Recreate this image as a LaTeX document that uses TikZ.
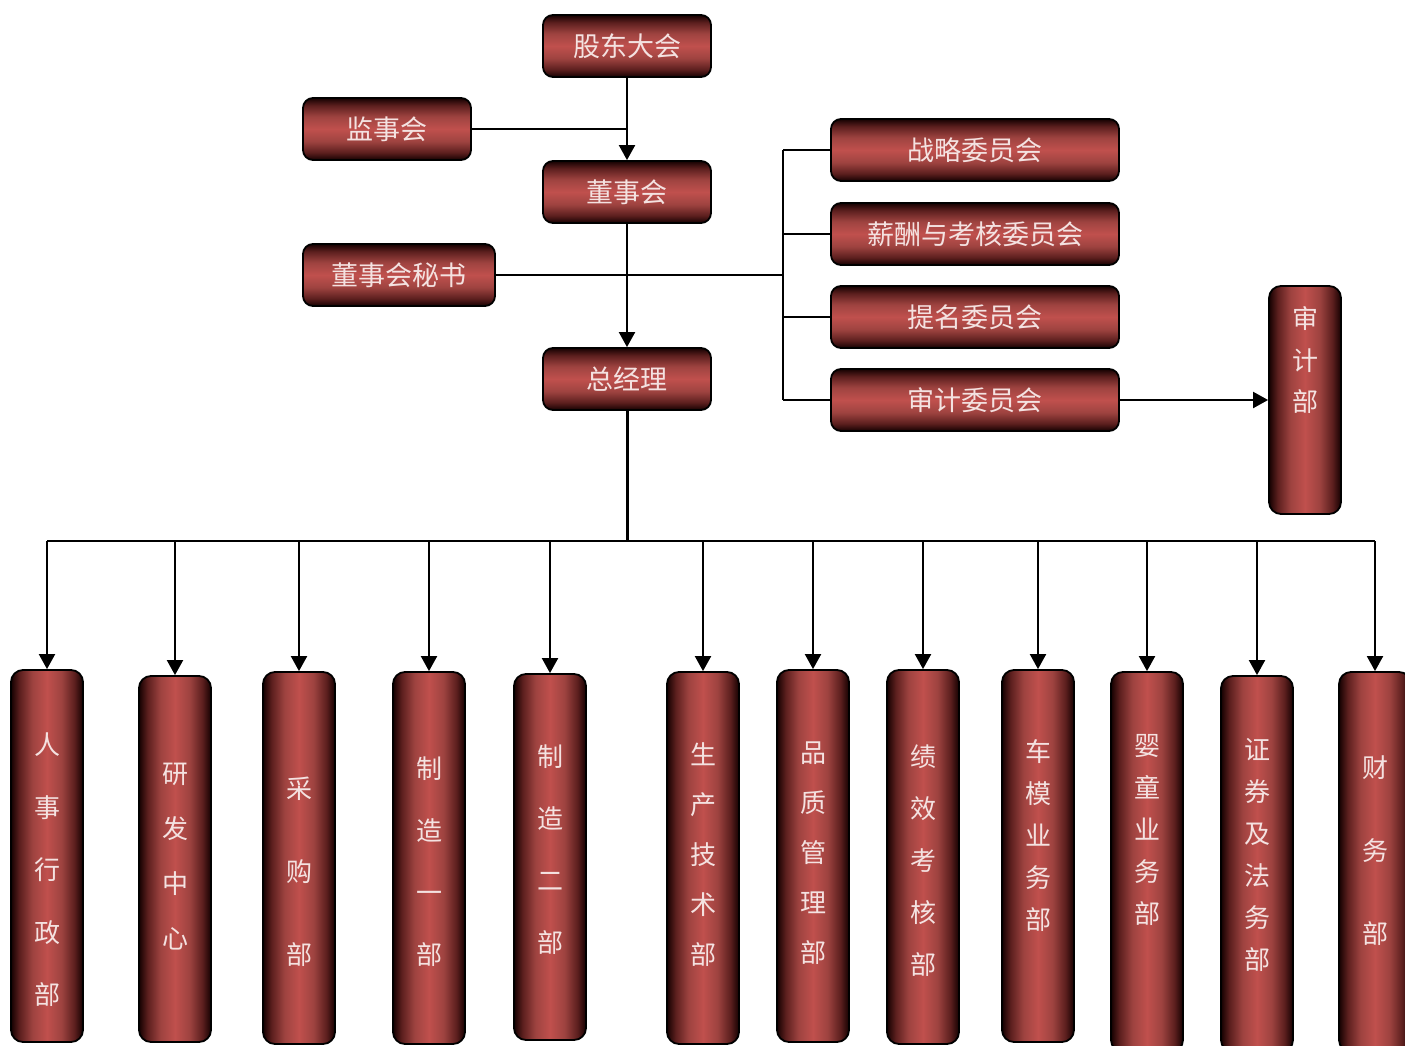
\documentclass[tikz,border=0pt]{standalone}
\usepackage{fontspec}
\newfontfamily\cjk{Noto Sans CJK SC}
\usetikzlibrary{arrows.meta}
\definecolor{dk}{HTML}{150101}
\definecolor{dm}{HTML}{5C1F1E}
\definecolor{dl}{HTML}{9E4340}
\definecolor{rd}{HTML}{C0504D}
\definecolor{tx}{HTML}{F4E2E1}
\pgfdeclareverticalshading{vsh}{100bp}{color(0bp)=(dk); color(25bp)=(dk); color(31bp)=(dm); color(40bp)=(dl); color(50bp)=(rd); color(60bp)=(dl); color(69bp)=(dm); color(75bp)=(dk); color(100bp)=(dk)}
\pgfdeclarehorizontalshading{hsh}{100bp}{color(0bp)=(dk); color(25bp)=(dk); color(31bp)=(dm); color(40bp)=(dl); color(50bp)=(rd); color(60bp)=(dl); color(69bp)=(dm); color(75bp)=(dk); color(100bp)=(dk)}
\newcommand{\mydept}[7]{%
  \node[vbox, minimum height={#4-#3}] (#1) at (#2,{(#3+#4)/2}) {};
  \node[vtext, font={\cjk\fontsize{26}{#6}\selectfont}] (#1t) at (#2,#5) {#7};
}
\begin{document}
\begin{tikzpicture}[x=1pt,y=-1pt,
  hbox/.style={rectangle, rounded corners=10pt, draw=black, line width=1.8pt,
    shading=vsh, text=tx,
    minimum height=62pt, font={\cjk\fontsize{27}{30}\selectfont}, inner sep=0pt},
  vbox/.style={rectangle, rounded corners=12pt, draw=black, line width=1.8pt,
    shading=hsh, minimum width=72pt, inner sep=0pt},
  vtext/.style={text=tx, align=center, inner sep=0pt},
  conn/.style={draw=black, line width=2pt},
  arr/.style={conn, -{Triangle[length=15pt,width=16pt]}}]
\useasboundingbox (0,0) rectangle (1405,1046);
\fill[white] (0,0) rectangle (1405,1046);
% top boxes
\node[hbox, minimum width=168pt] (gd) at (627,46) {股东大会};
\node[hbox, minimum width=168pt] (js) at (387,129) {监事会};
\node[hbox, minimum width=168pt] (ds) at (627,192) {董事会};
\node[hbox, minimum width=192pt] (ms) at (399,275) {董事会秘书};
\node[hbox, minimum width=168pt] (zjl) at (627,379) {总经理};
\node[hbox, minimum width=288pt] (zl) at (975,150) {战略委员会};
\node[hbox, minimum width=288pt] (xc) at (975,234) {薪酬与考核委员会};
\node[hbox, minimum width=288pt] (tm) at (975,317) {提名委员会};
\node[hbox, minimum width=288pt] (sjw) at (975,400) {审计委员会};
\mydept{sjb}{1305}{286}{514}{360}{41.5}{审\\计\\部}
% coordinates
\coordinate (jsj) at (627,129);
\coordinate (sj) at (783,275);
\coordinate (bus) at (627,541);
% connectors top
\draw[arr] (gd.south) -- (ds.north);
\draw[conn] (js.east) -- (jsj);
\draw[arr] (ds.south) -- (zjl.north);
\draw[conn] (ms.east) -- (sj);
\draw[conn] (sj |- zl.west) -- (sj |- sjw.west);
\draw[conn] (sj |- zl.west) -- (zl.west);
\draw[conn] (sj |- xc.west) -- (xc.west);
\draw[conn] (sj |- tm.west) -- (tm.west);
\draw[conn] (sj |- sjw.west) -- (sjw.west);
\draw[arr] (sjw.east) -- (sjb.west |- sjw.east);
% departments
\mydept{hr}{47}{670}{1042}{870}{62.5}{人\\事\\行\\政\\部}
\mydept{rd}{175}{676}{1042}{857}{55}{研\\发\\中\\心}
\mydept{cg}{299}{672}{1044}{872}{83}{采\\购\\部}
\mydept{zza}{429}{672}{1044}{862}{62}{制\\造\\一\\部}
\mydept{zzb}{550}{674}{1040}{850}{62}{制\\造\\二\\部}
\mydept{sc}{703}{672}{1044}{855}{50}{生\\产\\技\\术\\部}
\mydept{pz}{813}{670}{1042}{853}{50}{品\\质\\管\\理\\部}
\mydept{jx}{923}{670}{1044}{861}{52}{绩\\效\\考\\核\\部}
\mydept{cm}{1038}{670}{1042}{836}{42}{车\\模\\业\\务\\部}
\mydept{yt}{1147}{672}{1052}{830}{42}{婴\\童\\业\\务\\部}
\mydept{zq}{1257}{676}{1052}{855}{42}{证\\券\\及\\法\\务\\部}
\mydept{cw}{1375}{672}{1052}{851}{83}{财\\务\\部}
% bus
\draw[conn, line width=3pt] (zjl.south) -- (bus);
\draw[conn] (hr.north |- bus) -- (cw.north |- bus);
\foreach \d in {hr,rd,cg,zza,zzb,sc,pz,jx,cm,yt,zq,cw}
  \draw[arr] (\d.north |- bus) -- (\d.north);
\end{tikzpicture}
\end{document}
